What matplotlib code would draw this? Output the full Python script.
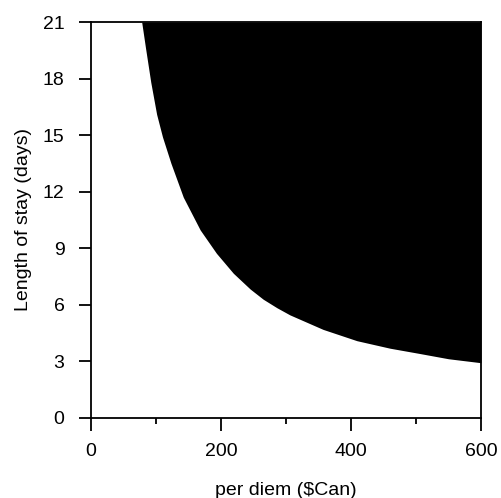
import matplotlib
matplotlib.use("Agg")
import matplotlib.pyplot as plt

plt.rcParams['font.family'] = ['Liberation Sans', 'DejaVu Sans']

# boundary of the black region
per_diem = [78, 84, 92, 101, 110, 123, 142, 168, 193, 219, 245, 265, 286,
            306, 357, 409, 460, 504, 550, 600]
stay = [21.0, 19.6, 17.8, 16.1, 14.9, 13.5, 11.7, 9.96, 8.72, 7.66, 6.82,
        6.28, 5.83, 5.45, 4.68, 4.08, 3.68, 3.41, 3.12, 2.91]

xticks = [0, 200, 400, 600]
yticks = [0, 3, 6, 9, 12, 15, 18, 21]

fig = plt.figure(figsize=(5.01, 4.98), dpi=100)
ax = fig.add_axes([0.1816, 0.1616, 0.7784, 0.7942])

ax.fill_between(per_diem, stay, 21, color='black', linewidth=0)

ax.set_xlim(0, 600)
ax.set_ylim(0, 21)
ax.set_xticks(xticks)
ax.set_xticks([100, 300, 500], minor=True)
ax.set_yticks(yticks)

for s in ax.spines.values():
    s.set_linewidth(1.3)
ax.tick_params(which='major', direction='out', length=9, width=1.3,
               labelsize=14, pad=10)
ax.tick_params(which='minor', direction='out', length=4, width=1.3)
ax.tick_params(axis='x', pad=9)

ax.set_xlabel('per diem ($Can)', fontsize=14, labelpad=16)
ax.set_ylabel('Length of stay (days)', fontsize=14, labelpad=8)

fig.savefig('out.png', dpi=100)
